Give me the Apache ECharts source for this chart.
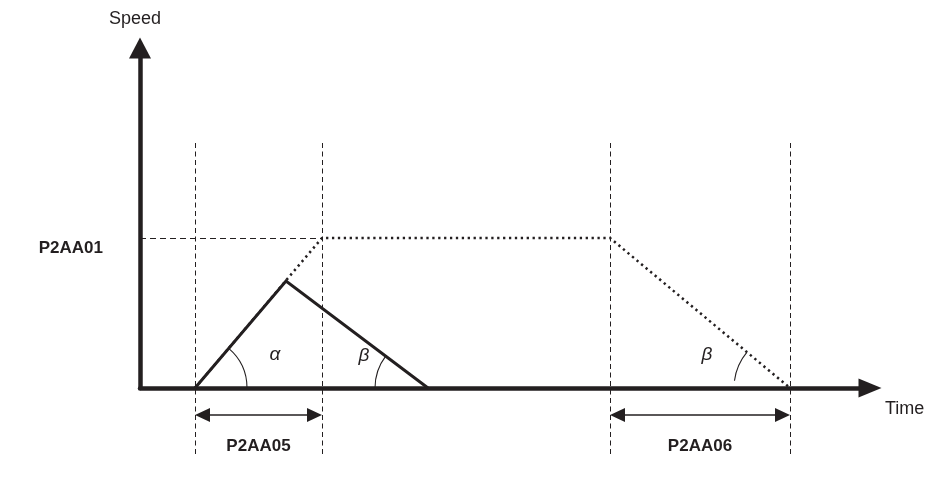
<!DOCTYPE html>
<html>
<head>
<meta charset="utf-8">
<script src="https://cdn.jsdelivr.net/npm/echarts@6/dist/echarts.min.js"></script>
<style>html,body{margin:0;padding:0;background:#fff}#c{width:943px;height:480px}</style>
</head>
<body>
<div id="c"></div>
<script>
// ---- data (time units / speed units) ----
const speedLevel = 15;                       // P2AA01 level
const speedLevelLabel = 'P2AA01';
const actualProfile = [[5.5, 0], [14.6, 10.7], [28.8, 0]];          // solid triangle
const plannedProfile = [[5.5, 0], [18.2, 15], [47.0, 15], [65.0, 0]]; // dotted trapezoid
const levelGuide = [[0, 15], [18.2, 15]];
const guideX = [5.5, 18.2, 47.0, 65.0];
const guideTop = 24.5;
const guideBottom = -6.9;
const dimStart = [5.5, 47.0];
const dimEnd = [18.2, 65.0];
const dimLabels = ['P2AA05', 'P2AA06'];
const dimY = -2.7;
const dimLabelY = -5.8;
const angleLabels = ['α', 'β', 'β'];
const angleLabelX = [13.5, 22.4, 56.7];
const angleLabelY = [3.3, 3.2, 3.3];
const xMax = 73;
const yMax = 34;

const INK = '#231f20';
const FONT = '"Liberation Sans", Arial, Helvetica, sans-serif';

// arcs: vertex, ray end, radius(px), gap from baseline (rad)
const arcVertex = [actualProfile[0], actualProfile[2], plannedProfile[3]];
const arcRay = [actualProfile[1], actualProfile[1], plannedProfile[2]];
const arcRadius = [52, 53, 56];
const arcGap = [0, 0, 0.13];

const chart = echarts.init(document.getElementById('c'), null, {renderer: 'canvas'});

const option = {
  animation: false,
  grid: {left: 140, right: 73, top: 48, bottom: 92, containLabel: false},
  xAxis: {
    type: 'value', min: 0, max: xMax,
    name: 'Time', nameLocation: 'end', nameGap: 15,
    nameTextStyle: {color: INK, fontSize: 18, fontFamily: FONT, verticalAlign: 'top', padding: [12, 0, 0, 0]},
    axisLine: {show: true, onZero: false, symbol: ['none', 'triangle'], symbolSize: [19, 23],
      lineStyle: {color: INK, width: 4.5}},
    axisTick: {show: false}, axisLabel: {show: false}, splitLine: {show: false}
  },
  yAxis: {
    type: 'value', min: 0, max: yMax, interval: speedLevel,
    name: 'Speed', nameLocation: 'end', nameGap: 20,
    nameTextStyle: {color: INK, fontSize: 18, fontFamily: FONT, padding: [0, 10, 0, 0]},
    axisLine: {show: true, symbol: ['none', 'triangle'], symbolSize: [22, 21],
      lineStyle: {color: INK, width: 4.5}},
    axisTick: {show: false}, splitLine: {show: false},
    axisLabel: {show: true, margin: 37, color: INK, fontSize: 17, fontWeight: 'bold', fontFamily: FONT,
      verticalAlign: 'top', padding: [2, 0, 0, 0],
      formatter: v => (v === speedLevel ? speedLevelLabel : '')}
  },
  series: [
    {
      type: 'custom', silent: true, data: [levelGuide[0]],
      renderItem: (params, api) => {
        const p1 = api.coord(levelGuide[0]);
        const p2 = api.coord(levelGuide[1]);
        const y = Math.round(p1[1]) + 0.5;
        return {type: 'line', shape: {x1: p1[0], y1: y, x2: p2[0], y2: y},
          style: {stroke: INK, lineWidth: 1, lineDash: [6, 4]}};
      }
    },
    {
      type: 'custom', silent: true, data: guideX.map(x => [x, guideTop]),
      renderItem: (params, api) => {
        const p1 = api.coord([api.value(0), guideTop]);
        const p2 = api.coord([api.value(0), guideBottom]);
        return {type: 'line', shape: {x1: Math.round(p1[0]) + 0.5, y1: p1[1], x2: Math.round(p2[0]) + 0.5, y2: p2[1]},
          style: {stroke: INK, lineWidth: 1, lineDash: [5, 3.5]}};
      }
    },
    {
      type: 'line', data: plannedProfile, symbol: 'none', silent: true,
      lineStyle: {color: INK, width: 2.5, type: [2.3, 3.6], cap: 'butt'}
    },
    {
      type: 'line', data: actualProfile, symbol: 'none', silent: true,
      lineStyle: {color: INK, width: 3, join: 'miter'}
    },
    {
      type: 'custom', silent: true, data: arcVertex,
      renderItem: (params, api) => {
        const i = params.dataIndex;
        const c = api.coord(arcVertex[i]);
        const t = api.coord(arcRay[i]);
        let a = Math.atan2(t[1] - c[1], t[0] - c[0]);
        let start, end;
        if (t[0] >= c[0]) { start = a; end = -arcGap[i]; }
        else { start = Math.PI + arcGap[i]; end = a + 2 * Math.PI; }
        return {type: 'arc', shape: {cx: c[0], cy: c[1], r: arcRadius[i], startAngle: start, endAngle: end, clockwise: true},
          style: {stroke: INK, fill: null, lineWidth: 1.1}};
      }
    },
    {
      type: 'custom', silent: true, data: angleLabels.map((s, i) => [angleLabelX[i], angleLabelY[i]]),
      renderItem: (params, api) => {
        const p = api.coord([api.value(0), api.value(1)]);
        return {type: 'text', x: p[0], y: p[1],
          style: {text: angleLabels[params.dataIndex], fill: INK, font: 'italic 19px ' + FONT, align: 'center', verticalAlign: 'middle'}};
      }
    },
    {
      type: 'custom', silent: true, data: dimStart.map((s, i) => [s, dimY]),
      renderItem: (params, api) => {
        const i = params.dataIndex;
        const a = api.coord([dimStart[i], dimY]);
        const b = api.coord([dimEnd[i], dimY]);
        const m = api.coord([(dimStart[i] + dimEnd[i]) / 2, dimLabelY]);
        const L = 15, H = 7;
        return {type: 'group', children: [
          {type: 'line', shape: {x1: a[0] + 4, y1: a[1], x2: b[0] - 4, y2: b[1]}, style: {stroke: INK, lineWidth: 1.6}},
          {type: 'polygon', shape: {points: [[a[0], a[1]], [a[0] + L, a[1] - H], [a[0] + L, a[1] + H]]}, style: {fill: INK}},
          {type: 'polygon', shape: {points: [[b[0], b[1]], [b[0] - L, b[1] - H], [b[0] - L, b[1] + H]]}, style: {fill: INK}},
          {type: 'text', x: m[0], y: m[1], style: {text: dimLabels[i], fill: INK, font: 'bold 17px ' + FONT, align: 'center', verticalAlign: 'middle'}}
        ]};
      }
    }
  ]
};
chart.setOption(option);
</script>
</body>
</html>
